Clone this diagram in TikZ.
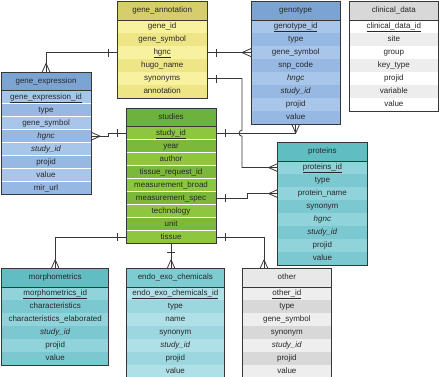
\documentclass[tikz,border=0pt]{standalone}
\usepackage{fontspec}
\setmainfont{Liberation Sans}
\usetikzlibrary{positioning, calc}
\definecolor{mytext}{RGB}{40,40,40}
\definecolor{myline}{RGB}{55,55,55}
\definecolor{annohead}{RGB}{214,205,108}
\definecolor{annoA}{RGB}{248,241,160}
\definecolor{annoB}{RGB}{238,230,134}
\definecolor{greenhead}{RGB}{110,178,62}
\definecolor{greenA}{RGB}{142,198,64}
\definecolor{greenB}{RGB}{124,184,57}
\definecolor{bluehead}{RGB}{124,164,211}
\definecolor{blueA}{RGB}{168,198,234}
\definecolor{blueB}{RGB}{150,184,226}
\definecolor{tealhead}{RGB}{96,190,194}
\definecolor{tealA}{RGB}{144,211,218}
\definecolor{tealB}{RGB}{124,200,208}
\definecolor{cyanhead}{RGB}{126,204,209}
\definecolor{cyanA}{RGB}{176,224,231}
\definecolor{cyanB}{RGB}{156,214,222}
\definecolor{greyhead}{RGB}{232,232,232}
\definecolor{greyA}{RGB}{238,238,238}
\definecolor{greyB}{RGB}{216,216,216}
\definecolor{clinhead}{RGB}{216,216,216}
\definecolor{clinA}{RGB}{255,255,255}
\definecolor{clinB}{RGB}{237,237,237}

\begin{document}
\begin{tikzpicture}[
		x=1pt, y=1pt,
		font=\fontsize{8}{9.6}\selectfont,
		text=mytext,
		tw/.style={minimum width=#1},
		head/.style={rectangle, anchor=north west, minimum height=18pt, inner sep=0pt, text height=6pt, text depth=2pt},
		row/.style={rectangle, below=0pt of #1, minimum height=12.6pt, inner sep=0pt, text height=6pt, text depth=2pt},
		frame/.style={draw=myline, line width=0.8pt},
		sep/.style={draw=myline, line width=1pt},
		conn/.style={draw=myline, line width=0.8pt},
		crow/.pic={\draw[conn] (-9,0) -- (0,4) (-9,0) -- (0,-4);},
		bar/.pic={\draw[conn] (9,-4) -- (9,4);}
		]
		
		\useasboundingbox (0,0) rectangle (440,-377);
		
		% Tables
		\node[head, tw=90pt, fill=annohead] (ga-0) at (117,-1.7) {gene\_annotation};
		\foreach \t [count=\i] in {gene\_id, gene\_symbol, \underline{hgnc}, hugo\_name, synonyms, annotation} {
			\pgfmathtruncatemacro\j{\i-1}
			\ifodd\i\def\c{A}\else\def\c{B}\fi
			\node[row=ga-\j, tw=90pt, fill=anno\c] (ga-\i) {\t};
		}
		\draw[frame] (ga-0.north west) rectangle (ga-6.south east);
		\draw[sep] (ga-0.south west) -- (ga-0.south east);
		
		\node[head, tw=89.7pt, fill=bluehead] (ge-0) at (1,-72.3) {gene\_expression};
		\foreach \t [count=\i] in {\underline{gene\_expression\_id}, type, gene\_symbol, \textit{hgnc}, \textit{study\_id}, projid, value, mir\_url} {
			\pgfmathtruncatemacro\j{\i-1}
			\ifodd\i\def\c{A}\else\def\c{B}\fi
			\node[row=ge-\j, tw=89.7pt, fill=blue\c] (ge-\i) {\t};
		}
		\draw[frame] (ge-0.north west) rectangle (ge-8.south east);
		\draw[sep] (ge-0.south west) -- (ge-0.south east);
		
		\node[head, tw=89.7pt, fill=greenhead] (st-0) at (126,-108.3) {studies};
		\foreach \t [count=\i] in {\underline{study\_id}, year, author, tissue\_request\_id, measurement\_broad, measurement\_spec, technology, unit, tissue} {
			\pgfmathtruncatemacro\j{\i-1}
			\ifodd\i\def\c{A}\else\def\c{B}\fi
			\node[row=st-\j, tw=89.7pt, fill=green\c] (st-\i) {\t};
		}
		\draw[frame] (st-0.north west) rectangle (st-9.south east);
		\draw[sep] (st-0.south west) -- (st-0.south east);
		
		\node[head, tw=89pt, fill=bluehead] (gt-0) at (251,-1.7) {genotype};
		\foreach \t [count=\i] in {\underline{genotype\_id}, type, gene\_symbol, snp\_code, \textit{hngc}, \textit{study\_id}, projid, value} {
			\pgfmathtruncatemacro\j{\i-1}
			\ifodd\i\def\c{A}\else\def\c{B}\fi
			\node[row=gt-\j, tw=89pt, fill=blue\c] (gt-\i) {\t};
		}
		\draw[frame] (gt-0.north west) rectangle (gt-8.south east);
		\draw[sep] (gt-0.south west) -- (gt-0.south east);
		
		\node[head, tw=89.3pt, fill=clinhead] (cd-0) at (349,-1.7) {clinical\_data};
		\foreach \t [count=\i] in {\underline{clinical\_data\_id}, site, group, key\_type, projid, variable, value} {
			\pgfmathtruncatemacro\j{\i-1}
			\ifodd\i\def\c{A}\else\def\c{B}\fi
			\node[row=cd-\j, tw=89.3pt, fill=clin\c] (cd-\i) {\t};
		}
		\draw[frame] (cd-0.north west) rectangle (cd-7.south east);
		\draw[sep] (cd-0.south west) -- (cd-0.south east);
		
		\node[head, tw=89pt, fill=tealhead] (pr-0) at (277.7,-142.7) {proteins};
		\foreach \t [count=\i] in {\underline{proteins\_id}, type, protein\_name, synonym, \textit{hgnc}, \textit{study\_id}, projid, value} {
			\pgfmathtruncatemacro\j{\i-1}
			\ifodd\i\def\c{A}\else\def\c{B}\fi
			\node[row=pr-\j, tw=89pt, fill=teal\c] (pr-\i) {\t};
		}
		\draw[frame] (pr-0.north west) rectangle (pr-8.south east);
		\draw[sep] (pr-0.south west) -- (pr-0.south east);
		
		\node[head, tw=106.6pt, fill=tealhead] (mo-0) at (1.7,-268.7) {morphometrics};
		\foreach \t [count=\i] in {\underline{morphometrics\_id}, characteristics, characteristics\_elaborated, \textit{study\_id}, projid, value} {
			\pgfmathtruncatemacro\j{\i-1}
			\ifodd\i\def\c{A}\else\def\c{B}\fi
			\node[row=mo-\j, tw=106.6pt, fill=teal\c] (mo-\i) {\t};
		}
		\draw[frame] (mo-0.north west) rectangle (mo-6.south east);
		\draw[sep] (mo-0.south west) -- (mo-0.south east);
		
		\node[head, tw=97.7pt, fill=cyanhead] (ec-0) at (126.3,-268.7) {endo\_exo\_chemicals};
		\foreach \t [count=\i] in {\underline{endo\_exo\_chemicals\_id}, type, name, synonym, \textit{study\_id}, projid, value} {
			\pgfmathtruncatemacro\j{\i-1}
			\ifodd\i\def\c{A}\else\def\c{B}\fi
			\node[row=ec-\j, tw=97.7pt, fill=cyan\c] (ec-\i) {\t};
		}
		\draw[frame] (ec-0.north west) rectangle (ec-7.south east);
		\draw[sep] (ec-0.south west) -- (ec-0.south east);
		
		\node[head, tw=89.3pt, fill=greyhead] (ot-0) at (242,-268.7) {other};
		\foreach \t [count=\i] in {\underline{other\_id}, type, gene\_symbol, synonym, \textit{study\_id}, projid, value} {
			\pgfmathtruncatemacro\j{\i-1}
			\ifodd\i\def\c{A}\else\def\c{B}\fi
			\node[row=ot-\j, tw=89.3pt, fill=grey\c] (ot-\i) {\t};
		}
		\draw[frame] (ot-0.north west) rectangle (ot-7.south east);
		\draw[sep] (ot-0.south west) -- (ot-0.south east);
		
		% Links
		\coordinate (jump) at (242,0);
		\coordinate (otin) at ($(ot-0.north west)+(22,0)$);
		
		\draw[conn] (ga-3.west) -| (ge-0.north);
		\draw[conn] (ga-3.east) -- (gt-3.west);
		\draw[conn] (ga-5.east) -- (ga-5.east -| jump) -- ($(st-1.east -| jump)+(0,3)$) arc[start angle=90, end angle=270, radius=3pt] -- (pr-1.west -| jump) -- (pr-1.west);
		\draw[conn] (st-1.east) -| (gt-8.south);
		\draw[conn] (st-6.east) -| ($(st-6.east)!.5!(pr-3.west)$) |- (pr-3.west);
		\draw[conn] (st-9.east) -| (otin);
		\draw[conn] (st-9.west) -| (mo-0.north);
		\draw[conn] (st-9.south) -- (st-9.south |- ec-0.north);
		\draw[conn] (ge-4.east) -| ($(ge-4.east)!.5!(st-1.west)$) |- (st-1.west);
		
		% Ends
		\pic[rotate=-90] at (ge-0.north) {crow};
		\pic at (gt-3.west) {crow};
		\pic at (pr-1.west) {crow};
		\pic[rotate=90] at (gt-8.south) {crow};
		\pic at (pr-3.west) {crow};
		\pic[rotate=-90] at (otin) {crow};
		\pic[rotate=-90] at (mo-0.north) {crow};
		\pic[rotate=-90] at (st-9.south |- ec-0.north) {crow};
		\pic[rotate=180] at (ge-4.east) {crow};
		
		\pic[rotate=180] at (ga-3.west) {bar};
		\pic at (ga-3.east) {bar};
		\pic at (ga-5.east) {bar};
		\pic at (st-1.east) {bar};
		\pic at (st-6.east) {bar};
		\pic at (st-9.east) {bar};
		\pic[rotate=180] at (st-9.west) {bar};
		\pic[rotate=-90] at (st-9.south) {bar};
		\pic[rotate=180] at (st-1.west) {bar};
		
	\end{tikzpicture}
\end{document}
